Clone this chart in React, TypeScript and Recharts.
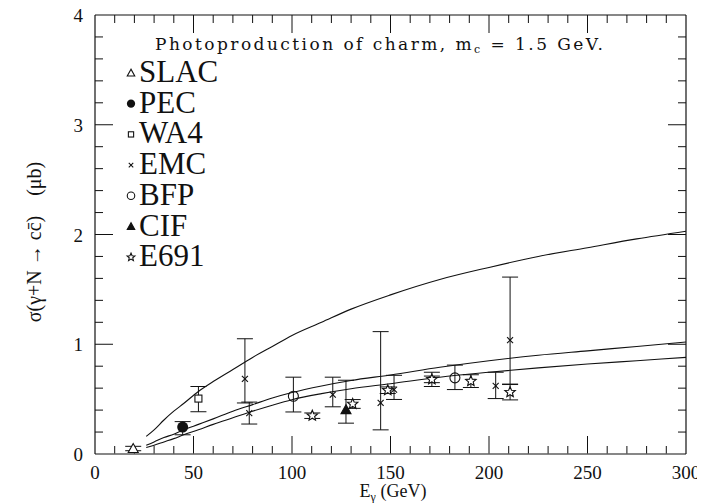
import React from "react";
import { ComposedChart, Line, Scatter, ErrorBar, XAxis, YAxis, ReferenceLine } from "recharts";

// ---- Theory curves ----
const E_CURVE = [26, 30, 35, 40, 45, 52.5, 60, 70, 80, 90, 100, 115, 130, 150, 175, 200, 225, 250, 275, 300];
const SIGMA_UPPER = [0.16, 0.22, 0.31, 0.39, 0.46, 0.57, 0.66, 0.77, 0.88, 0.98, 1.08, 1.2, 1.32, 1.45, 1.59, 1.7, 1.8, 1.88, 1.96, 2.03];
const SIGMA_MIDDLE = [0.08, 0.11, 0.15, 0.18, 0.22, 0.27, 0.32, 0.39, 0.45, 0.51, 0.56, 0.62, 0.67, 0.72, 0.79, 0.85, 0.9, 0.94, 0.98, 1.02];
const SIGMA_LOWER = [0.06, 0.08, 0.11, 0.14, 0.175, 0.22, 0.27, 0.33, 0.39, 0.445, 0.495, 0.55, 0.595, 0.64, 0.7, 0.745, 0.785, 0.82, 0.85, 0.88];

// ---- Experimental data ----
const SLAC_E = [19.4];
const SLAC_S = [0.05];
const SLAC_LO = [0.02];
const SLAC_HI = [0.02];

const PEC_E = [44.5];
const PEC_S = [0.245];
const PEC_LO = [0.07];
const PEC_HI = [0.05];

const WA4_E = [52.5];
const WA4_S = [0.505];
const WA4_LO = [0.12];
const WA4_HI = [0.11];

const EMC_E = [76.1, 78.3, 120.7, 145, 151.8, 171, 203.4, 210.7];
const EMC_S = [0.685, 0.373, 0.54, 0.465, 0.587, 0.68, 0.62, 1.037];
const EMC_LO = [0.22, 0.1, 0.11, 0.245, 0.09, 0.065, 0.115, 0.4];
const EMC_HI = [0.365, 0.1, 0.16, 0.65, 0.13, 0.065, 0.125, 0.575];

const BFP_E = [100.7, 182.7];
const BFP_S = [0.526, 0.694];
const BFP_LO = [0.143, 0.107];
const BFP_HI = [0.174, 0.116];

const CIF_E = [127.4];
const CIF_S = [0.404];
const CIF_LO = [0.123];
const CIF_HI = [0.268];

const E691_E = [110.3, 130.8, 148.6, 171, 190.8, 210.7];
const E691_S = [0.349, 0.456, 0.581, 0.68, 0.664, 0.563];
const E691_LO = [0.025, 0.04, 0.03, 0.03, 0.058, 0.07];
const E691_HI = [0.025, 0.04, 0.03, 0.03, 0.058, 0.07];

const LEGEND_LABELS = ["SLAC", "PEC", "WA4", "EMC", "BFP", "CIF", "E691"];
const X_MAJOR = [0, 50, 100, 150, 200, 250, 300];
const Y_MAJOR = [0, 1, 2, 3, 4];
const X_TICKS = Array.from({ length: 31 }, (_, i) => i * 10);
const Y_TICKS = Array.from({ length: 21 }, (_, i) => Math.round(i * 2) / 10);

const X_MIN = 0, X_MAX = 300, Y_MIN = 0, Y_MAX = 4;

const curveData = E_CURVE.map((e, i) => ({
  E: e,
  upper: SIGMA_UPPER[i],
  middle: SIGMA_MIDDLE[i],
  lower: SIGMA_LOWER[i],
}));

const build = (es: number[], ss: number[], lo: number[], hi: number[]) =>
  es.map((e, i) => ({ E: e, s: ss[i], err: [lo[i], hi[i]] }));

const INK = "#111";
const SERIF = "'Liberation Serif', 'DejaVu Serif', serif";

type Kind = "tri" | "dot" | "sq" | "x" | "circ" | "ftri" | "star";

function starPath(cx: number, cy: number, R: number) {
  const r = R * 0.45;
  let d = "";
  for (let i = 0; i < 10; i++) {
    const rad = i % 2 === 0 ? R : r;
    const a = -Math.PI / 2 + (i * Math.PI) / 5;
    d += (i === 0 ? "M" : "L") + (cx + rad * Math.cos(a)).toFixed(2) + "," + (cy + rad * Math.sin(a)).toFixed(2);
  }
  return d + "Z";
}

function Marker({ kind, cx, cy, s = 1 }: { kind: Kind; cx: number; cy: number; s?: number }) {
  const sw = 1.1;
  switch (kind) {
    case "tri": {
      const a = 5 * s;
      return <polygon points={`${cx},${cy - a} ${cx - a},${cy + a * 0.8} ${cx + a},${cy + a * 0.8}`} fill="#fff" stroke={INK} strokeWidth={sw} />;
    }
    case "ftri": {
      const a = 5 * s;
      return <polygon points={`${cx},${cy - a} ${cx - a},${cy + a * 0.8} ${cx + a},${cy + a * 0.8}`} fill={INK} stroke={INK} strokeWidth={sw} />;
    }
    case "dot":
      return <circle cx={cx} cy={cy} r={5.5 * s} fill={INK} />;
    case "sq": {
      const a = 3.5 * s;
      return <rect x={cx - a} y={cy - a} width={2 * a} height={2 * a} fill="#fff" stroke={INK} strokeWidth={sw} />;
    }
    case "x": {
      const a = 3 * s;
      return (
        <g stroke={INK} strokeWidth={sw}>
          <line x1={cx - a} y1={cy - a} x2={cx + a} y2={cy + a} />
          <line x1={cx - a} y1={cy + a} x2={cx + a} y2={cy - a} />
        </g>
      );
    }
    case "circ":
      return <circle cx={cx} cy={cy} r={5 * s} fill="none" stroke={INK} strokeWidth={sw} />;
    case "star":
      return <path d={starPath(cx, cy, 5.5 * s)} fill="#fff" stroke={INK} strokeWidth={sw} />;
  }
  return null;
}

const SERIES: { kind: Kind; data: any[] }[] = [
  { kind: "tri", data: build(SLAC_E, SLAC_S, SLAC_LO, SLAC_HI) },
  { kind: "dot", data: build(PEC_E, PEC_S, PEC_LO, PEC_HI) },
  { kind: "sq", data: build(WA4_E, WA4_S, WA4_LO, WA4_HI) },
  { kind: "x", data: build(EMC_E, EMC_S, EMC_LO, EMC_HI) },
  { kind: "circ", data: build(BFP_E, BFP_S, BFP_LO, BFP_HI) },
  { kind: "ftri", data: build(CIF_E, CIF_S, CIF_LO, CIF_HI) },
  { kind: "star", data: build(E691_E, E691_S, E691_LO, E691_HI) },
];

const W = 697;
const H = 495;
const X_AXIS_H = 40;
const MARGIN = { top: 7, right: 19, bottom: 9, left: 87 };
const PL = MARGIN.left;
const PR = W - MARGIN.right;
const PT = MARGIN.top;
const PB = H - MARGIN.bottom - X_AXIS_H;
const PLOT_W = PR - PL;
const PLOT_H = PB - PT;
const MAJ_PX = 18;
const MIN_PX = 8;
const xLen = (px: number) => (px / PLOT_W) * (X_MAX - X_MIN);
const yLen = (px: number) => (px / PLOT_H) * (Y_MAX - Y_MIN);
const sy = (v: number) => PB - ((v - Y_MIN) / (Y_MAX - Y_MIN)) * PLOT_H;

const renderBottomLabel = (p: any) => {
  const v = Number(p.payload.value);
  return (
    <text x={p.x} y={Number(p.y) + 25} textAnchor="middle" fontFamily={SERIF} fontSize={19} fill={INK}>
      {v}
    </text>
  );
};
const renderLeftLabel = (p: any) => {
  const v = Number(p.payload.value);
  return (
    <text x={Number(p.x) - 12} y={Number(p.y) + 7} textAnchor="end" fontFamily={SERIF} fontSize={19} fill={INK}>
      {v}
    </text>
  );
};

export default function App() {
  const kinds = SERIES.map((s) => s.kind);
  const tickLines: React.ReactNode[] = [];
  const yFoot = Y_MIN + yLen(0.5);
  X_TICKS.forEach((v) => {
    if (v === X_MIN || v === X_MAX) return;
    const len = yLen(X_MAJOR.includes(v) ? MAJ_PX : MIN_PX);
    tickLines.push(
      <ReferenceLine key={`xb${v}`} segment={[{ x: v, y: yFoot }, { x: v, y: Y_MIN + len }]} stroke={INK} strokeWidth={1} />,
      <ReferenceLine key={`xt${v}`} segment={[{ x: v, y: Y_MAX }, { x: v, y: Y_MAX - len }]} stroke={INK} strokeWidth={1} />
    );
  });
  Y_TICKS.forEach((v) => {
    if (v === Y_MIN || v === Y_MAX) return;
    const len = xLen(Y_MAJOR.includes(v) ? MAJ_PX : MIN_PX);
    tickLines.push(
      <ReferenceLine key={`yl${v}`} segment={[{ x: X_MIN, y: v }, { x: X_MIN + len, y: v }]} stroke={INK} strokeWidth={1} />,
      <ReferenceLine key={`yr${v}`} segment={[{ x: X_MAX, y: v }, { x: X_MAX - len, y: v }]} stroke={INK} strokeWidth={1} />
    );
  });

  return (
    <div style={{ position: "relative", width: W, height: H, background: "#fff" }}>
      <ComposedChart width={W} height={H} data={curveData} margin={MARGIN}>
        <XAxis
          dataKey="E"
          type="number"
          domain={[X_MIN, X_MAX]}
          ticks={X_MAJOR}
          interval={0}
          tickSize={0}
          tickMargin={0}
          tickLine={false}
          tick={renderBottomLabel}
          axisLine={{ stroke: INK, strokeWidth: 1.2 }}
          height={X_AXIS_H}
          allowDataOverflow
        />
        <YAxis
          type="number"
          domain={[Y_MIN, Y_MAX]}
          ticks={Y_MAJOR}
          interval={0}
          tickSize={0}
          tickMargin={0}
          tickLine={false}
          tick={renderLeftLabel}
          axisLine={{ stroke: INK, strokeWidth: 1.2 }}
          width={0}
          allowDataOverflow
        />
        <ReferenceLine y={Y_MAX} stroke={INK} strokeWidth={1.2} />
        <ReferenceLine x={X_MAX} stroke={INK} strokeWidth={1.2} />
        <ReferenceLine x={X_MIN} stroke={INK} strokeWidth={1.2} />
        {tickLines}
        <Line dataKey="upper" type="monotone" stroke={INK} strokeWidth={1.1} dot={false} isAnimationActive={false} />
        <Line dataKey="middle" type="monotone" stroke={INK} strokeWidth={1.1} dot={false} isAnimationActive={false} />
        <Line dataKey="lower" type="monotone" stroke={INK} strokeWidth={1.1} dot={false} isAnimationActive={false} />
        {SERIES.map((s, i) => (
          <Scatter
            key={i}
            data={s.data}
            dataKey="s"
            isAnimationActive={false}
            shape={(p: any) => <Marker kind={s.kind} cx={p.cx} cy={p.cy} />}
          >
            <ErrorBar dataKey="err" direction="y" width={8} stroke={INK} strokeWidth={1} isAnimationActive={false} />
          </Scatter>
        ))}
      </ComposedChart>
      <svg width={W} height={H} style={{ position: "absolute", left: 0, top: 0, pointerEvents: "none" }}>
        {Y_MAJOR.map((v) => (
          <text key={`yl${v}`} x={PL - 12} y={sy(v) + 7} textAnchor="end" fontFamily={SERIF} fontSize={19} fill={INK}>
            {v}
          </text>
        ))}
        <text x={147} y={42} textLength={448} lengthAdjust="spacing" fontFamily="'DejaVu Serif', serif" fontSize={17} fill={INK}>
          Photoproduction of charm, m<tspan fontSize={11} dy={3}>c</tspan>
          <tspan dy={-3}> = 1.5 GeV.</tspan>
        </text>
        {LEGEND_LABELS.map((lab, i) => {
          const base = 74 + i * 30.7;
          return (
            <g key={lab}>
              <Marker kind={kinds[i]} cx={123} cy={base - 9} s={0.75} />
              <text x={131} y={base} fontFamily={SERIF} fontSize={31} fill={INK}>
                {lab}
              </text>
            </g>
          );
        })}
        <text
          transform="translate(33,234) rotate(-90)"
          textAnchor="middle"
          fontFamily={SERIF}
          fontSize={20}
          fill={INK}
          style={{ whiteSpace: "pre" }}
        >
          {"σ(γ+N \u2192 cc\u0304)\u00a0\u00a0\u00a0\u00a0(μb)"}
        </text>
        <text x={385} y={489} textAnchor="middle" fontFamily={SERIF} fontSize={18} fill={INK}>
          E<tspan fontSize={12} dy={4}>γ</tspan>
          <tspan dy={-4}>{"\u00a0(GeV)"}</tspan>
        </text>
      </svg>
    </div>
  );
}
